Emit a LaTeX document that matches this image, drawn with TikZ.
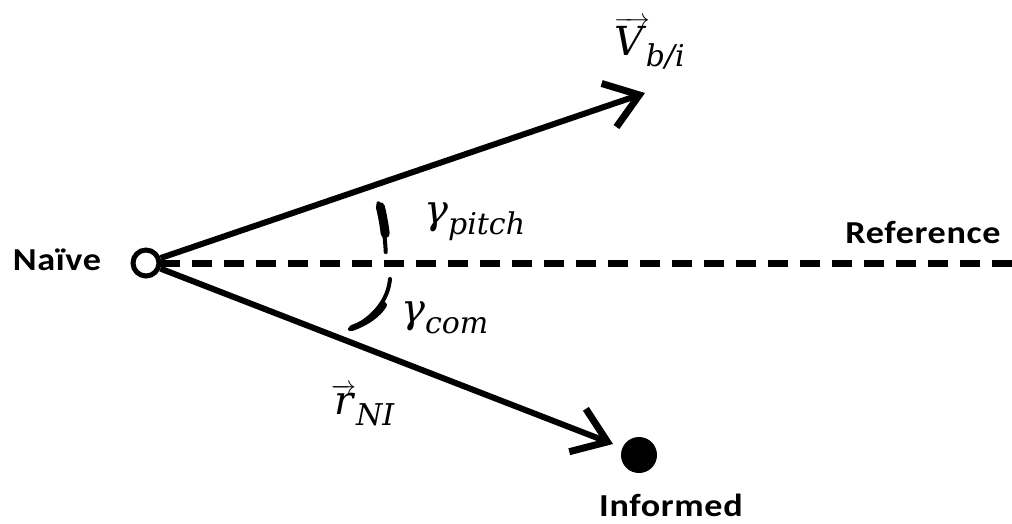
\documentclass[tikz,border=0pt]{standalone}
\usepackage{fontspec}
\setmainfont{Carlito}
\newfontfamily\lblfont{Carlito}[FakeStretch=1.13, LetterSpace=2]
\newfontfamily\cmb{DejaVu Serif}[ItalicFont={DejaVu Serif Italic}]
\newcommand{\subtxt}[1]{\raisebox{-0.28em}{\fontsize{30}{32}\selectfont\cmb\itshape #1}}
\newcommand{\mlab}[2]{{\cmb\itshape #1}\subtxt{#2}}
\usetikzlibrary{arrows.meta}
\begin{document}
\begin{tikzpicture}[x=1pt,y=-1pt,
  vec/.style={line width=6pt, -{Straight Barb[length=32pt,width=46pt,line width=7pt]}},
  lbl/.style={font=\fontsize{32}{36}\selectfont\lblfont\bfseries, inner sep=0pt},
  mlbl/.style={font=\fontsize{40}{44}\selectfont, inner sep=0pt},
  anglemark/.style={line width=4pt, line cap=round},
  anglethick/.style={line width=9pt, line cap=round}]
\useasboundingbox (0,0) rectangle (1012,523);
\coordinate (R) at (1012,263);
\coordinate (Vt) at (645,93);
\coordinate (rt) at (613,444);
\draw[line width=7pt, dash pattern=on 20pt off 12pt] (160,263) -- (R);
\node[circle, draw, line width=5pt, minimum size=26pt, inner sep=0pt, fill=white] (N) at (146,263) {};
\node[circle, fill, minimum size=36pt, inner sep=0pt] (I) at (639,455) {};
\draw[vec] (N) -- (Vt);
\draw[vec] (N) -- (rt);
% angle marks
\draw[anglemark] (N.center) ++(-14.4:240) arc[start angle=-14.4, end angle=-2.6, radius=240];
\draw[anglethick] (N.center) ++(-13.5:241) arc[start angle=-13.5, end angle=-7, radius=241];
\draw[anglemark] (390,279) .. controls (388,300) and (374,318) .. (350,329);
\draw[line width=6pt, line cap=round] (384,305) .. controls (378,315) and (366,323) .. (352,328);
% labels
\node[lbl, anchor=base] (NL) at (57,270) {Naïve};
\node[lbl, anchor=base] (RL) at (923,243) {Reference};
\node[lbl, anchor=base] (IL) at (671,516) {Informed};
\node[mlbl, anchor=base west] (VL) at (614,55) {$\overrightarrow{\mbox{\cmb\itshape V\,}}$\hspace{-0.1em}\subtxt{b/i}};
\node[mlbl, anchor=west] (GP) at (424,222) {\mlab{γ}{pitch}};
\node[mlbl, anchor=west] (GC) at (401,318) {\mlab{γ}{com}};
\node[mlbl, anchor=base west] (RN) at (331,414) {$\overrightarrow{\mbox{\cmb\itshape r}}$\subtxt{NI}};
\end{tikzpicture}
\end{document}
